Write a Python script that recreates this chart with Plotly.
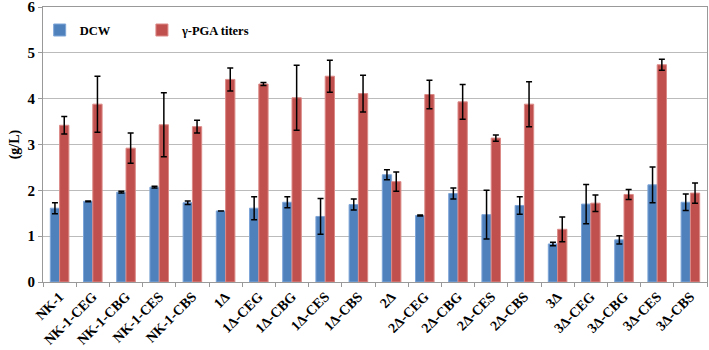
import plotly.graph_objects as go

categories = ["NK-1", "NK-1-CEG", "NK-1-CBG", "NK-1-CES", "NK-1-CBS",
              "1Δ", "1Δ-CEG", "1Δ-CBG", "1Δ-CES", "1Δ-CBS",
              "2Δ", "2Δ-CEG", "2Δ-CBG", "2Δ-CES", "2Δ-CBS",
              "3Δ", "3Δ-CEG", "3Δ-CBG", "3Δ-CES", "3Δ-CBS"]

dcw = [1.61, 1.76, 1.96, 2.07, 1.73,
       1.55, 1.61, 1.74, 1.43, 1.69,
       2.34, 1.45, 1.93, 1.47, 1.67,
       0.83, 1.70, 0.92, 2.12, 1.74]
dcw_err = [0.12, 0.01, 0.02, 0.02, 0.04,
           0.0, 0.25, 0.12, 0.39, 0.12,
           0.11, 0.01, 0.12, 0.53, 0.19,
           0.04, 0.43, 0.09, 0.39, 0.18]

pga = [3.42, 3.88, 2.92, 3.43, 3.39,
       4.42, 4.32, 4.02, 4.49, 4.11,
       2.19, 4.09, 3.93, 3.14, 3.88,
       1.15, 1.72, 1.91, 4.74, 1.94]
pga_err = [0.19, 0.61, 0.33, 0.70, 0.14,
           0.25, 0.03, 0.71, 0.35, 0.40,
           0.21, 0.31, 0.38, 0.07, 0.49,
           0.27, 0.18, 0.11, 0.12, 0.22]

y_ticks = [0, 1, 2, 3, 4, 5, 6]

font_family = "Liberation Serif"
legend_font = dict(family=font_family, size=12.5, color="black", weight="bold")

fig = go.Figure()
fig.add_trace(go.Bar(
    x=categories, y=dcw, name="DCW", legend="legend",
    marker=dict(color="#4F81BD", line=dict(color="#7FA6D8", width=1)),
    error_y=dict(type="data", array=dcw_err, visible=True,
                 color="black", thickness=1.5, width=3),
))
fig.add_trace(go.Bar(
    x=categories, y=pga, name="γ-PGA titers", legend="legend2",
    marker=dict(color="#C0504D", line=dict(color="#DC8A88", width=1)),
    error_y=dict(type="data", array=pga_err, visible=True,
                 color="black", thickness=1.5, width=3),
))

fig.update_layout(
    width=709, height=350,
    margin=dict(l=43, r=2, t=7, b=68),
    paper_bgcolor="white", plot_bgcolor="white",
    barmode="group", bargap=0.44, bargroupgap=0,
    font=dict(family=font_family, size=13, color="black"),
    showlegend=True,
    legend=dict(x=-0.005, y=0.915, xanchor="left", yanchor="middle",
                font=legend_font, bgcolor="rgba(0,0,0,0)", itemwidth=30),
    legend2=dict(x=0.149, y=0.915, xanchor="left", yanchor="middle",
                 font=legend_font, bgcolor="rgba(0,0,0,0)", itemwidth=30),
)
fig.update_xaxes(
    tickangle=-45, tickson="boundaries", ticks="outside", ticklen=4,
    tickcolor="#999999", showline=True, linecolor="#999999", linewidth=1,
    mirror=True, showgrid=False, automargin=False,
    tickfont=dict(family=font_family, size=14, color="black", weight="bold"),
)
fig.update_yaxes(
    range=[0, 6], tickvals=y_ticks, ticktext=[str(v) for v in y_ticks],
    ticks="outside", ticklen=4, tickcolor="#999999",
    showline=True, linecolor="#999999", linewidth=1, mirror=True,
    showgrid=True, gridcolor="#BBBBBB", gridwidth=1,
    zeroline=False, automargin=False, ticklabeloverflow="allow",
    title=dict(text="(g/L)", standoff=4,
               font=dict(family=font_family, size=14, color="black", weight="bold")),
    tickfont=dict(family=font_family, size=15, color="black", weight="bold"),
)

fig.write_html("out.html", config={"displayModeBar": False},
               post_script="document.body.style.margin='0';")
